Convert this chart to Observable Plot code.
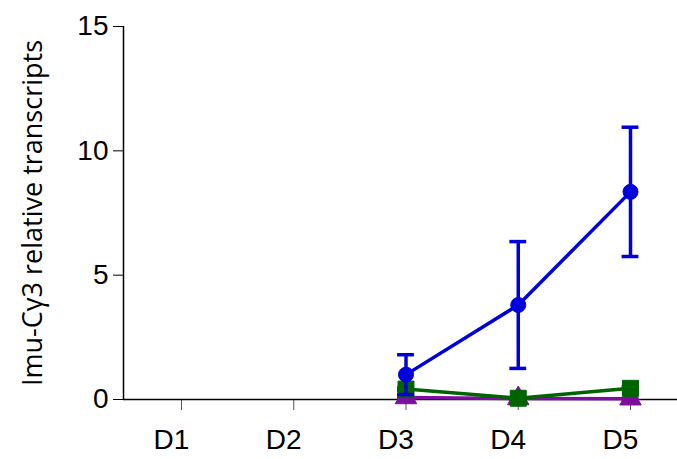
<!DOCTYPE html>
<html>
<head>
<meta charset="utf-8">
<script src="https://cdn.jsdelivr.net/npm/d3@7"></script>
<script src="https://cdn.jsdelivr.net/npm/@observablehq/plot@0.6"></script>
<style>
  html, body { margin: 0; padding: 0; background: #fff; }
</style>
</head>
<body>
<div id="chart"></div>
<script>
const days = [1, 2, 3, 4, 5];
const dayLabels = ["D1", "D2", "D3", "D4", "D5"];
const measuredDays = [3, 4, 5];
const blueMean = [1.0, 3.8, 8.35];
const blueErr = [0.8, 2.55, 2.6];
const greenMean = [0.42, 0.05, 0.45];
const greenErr = [0.05, 0.03, 0.05];
const purpleMean = [0.08, 0.04, 0.03];
const purpleErr = [0.02, 0.02, 0.02];
const yTicks = [0, 5, 10, 15];

const colors = {blue: "#0000dd", green: "#006400", purple: "#7d0f9e"};
const symbols = {blue: "circle", green: "square", purple: "triangle"};
const sizes = {blue: 7.5, green: 9, purple: 8};

function build(name, mean, err) {
  return measuredDays.map((d, i) => ({series: name, day: d, mean: mean[i], lo: mean[i] - err[i], hi: mean[i] + err[i]}));
}
const blue = build("blue", blueMean, blueErr);
const green = build("green", greenMean, greenErr);
const purple = build("purple", purpleMean, purpleErr);

function layer(data, name) {
  const c = colors[name];
  return [
    Plot.ruleX(data, {x: "day", y1: "lo", y2: "hi", stroke: c, strokeWidth: 3.5}),
    Plot.ruleY(data, {y: "hi", x1: d => d.day - 0.075, x2: d => d.day + 0.075, stroke: c, strokeWidth: 3.5}),
    Plot.ruleY(data, {y: "lo", x1: d => d.day - 0.075, x2: d => d.day + 0.075, stroke: c, strokeWidth: 3.5}),
    Plot.line(data, {x: "day", y: "mean", stroke: c, strokeWidth: 3.5}),
    Plot.dot(data, {x: "day", y: "mean", fill: c, stroke: c, strokeWidth: 1, symbol: symbols[name], r: sizes[name]})
  ];
}

const chart = Plot.plot({
  width: 677,
  height: 459,
  marginLeft: 123,
  marginRight: 0,
  marginTop: 26,
  marginBottom: 60,
  style: {fontFamily: "Liberation Sans, Arial, sans-serif", fontSize: "28px", color: "#000", background: "#fff"},
  x: {domain: [1, 5], range: [181, 630]},
  y: {domain: [0, 15]},
  marks: [
    Plot.axisX({ticks: days, tickFormat: () => "", tickSize: 11, stroke: "#555", label: null}),
    Plot.axisX({ticks: days, tickFormat: d => dayLabels[days.indexOf(d)], tickSize: 0, tickPadding: 30, dx: -10, label: null, fontSize: 28}),
    Plot.axisY({ticks: yTicks, tickSize: 10, tickPadding: 5, label: null, fontSize: 28}),
    Plot.ruleX([0], {x: 1, y1: 0, y2: 15, dx: -58, stroke: "#000", strokeWidth: 1.5}),
    Plot.ruleY([0], {stroke: "#000", strokeWidth: 1.5}),
    Plot.text(["Imu-Cγ3 relative transcripts"], {frameAnchor: "left", textAnchor: "middle", dx: -90, rotate: -90, fontSize: 27, text: d => d, fill: "#000", fontFamily: "Open Sans, sans-serif"}),
    ...layer(purple, "purple"),
    ...layer(green, "green"),
    ...layer(blue, "blue")
  ]
});
document.getElementById("chart").appendChild(chart);
</script>
</body>
</html>
